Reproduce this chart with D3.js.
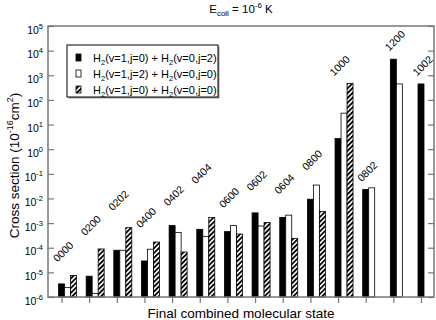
<!DOCTYPE html>
<meta charset="utf-8">
<style>
body { margin: 0; background: #fff; }
text { font-family: "Liberation Sans", Arial, sans-serif; fill: #000; }
.axis path { display: none; }
.axis line { stroke: #777; stroke-width: 1.2px; }
.frame { fill: none; stroke: #777; stroke-width: 1.5px; }
.bar { stroke: #000; stroke-width: 0.8px; }
</style>
<svg width="436" height="320"></svg>
<script src="https://d3js.org/d3.v7.min.js"></script>
<script>

// final combined molecular states, in plotting order
var states = ["0000", "0200", "0202", "0400", "0402", "0404", "0600", "0602",
              "0604", "0800", "1000", "0802", "1200", "1002"];

// cross sections (1e-16 cm^2)
var h2v1j0_v0j2 = [3.4e-6, 7e-6, 7.9e-5, 2.9e-5, 7.9e-4, 5.6e-4, 4.5e-4, 2.6e-3,
                   1.7e-3, 9.3e-3, 2.7, 0.023, 4500, 445];
var h2v1j2_v0j0 = [2.4e-6, 1.4e-6, 7.9e-5, 8.7e-5, 4.2e-4, 2.9e-4, 7.9e-4, 7.6e-4,
                   2.1e-3, 0.035, 29, 0.027, 445, null];
var h2v1j0_v0j0 = [7.4e-6, 8.9e-5, 6.5e-4, 1.7e-4, 6.7e-5, 1.7e-3, 3.6e-4, 1.05e-3,
                   2.4e-4, 3.0e-3, 470, null, null, null];

// heights (data units) where the state labels sit
var labelAt = [2.5e-5, 2.9e-4, 3e-3, 6e-4, 4.7e-3, 0.037, 3.9e-3, 0.019,
               1.4e-2, 0.13, 890, 0.045, 9300, 890];

var yTickExp = [-6, -5, -4, -3, -2, -1, 0, 1, 2, 3, 4, 5];

var series = [
  {key: "a", values: h2v1j0_v0j2, fill: "#000",
   label: [["H", ""], ["2", "sub"], ["(v=1,j=0) + H", ""], ["2", "sub"], ["(v=0,j=2)", ""]]},
  {key: "b", values: h2v1j2_v0j0, fill: "#fff",
   label: [["H", ""], ["2", "sub"], ["(v=1,j=2) + H", ""], ["2", "sub"], ["(v=0,j=0)", ""]]},
  {key: "c", values: h2v1j0_v0j0, fill: "url(#hatch)",
   label: [["H", ""], ["2", "sub"], ["(v=1,j=0) + H", ""], ["2", "sub"], ["(v=0,j=0)", ""]]}
];

var svg = d3.select("svg"),
    margin = {top: 26, right: 2, bottom: 23, left: 48},
    width = +svg.attr("width") - margin.left - margin.right,
    height = +svg.attr("height") - margin.top - margin.bottom;

var defs = svg.append("defs");
var pat = defs.append("pattern")
    .attr("id", "hatch")
    .attr("patternUnits", "userSpaceOnUse")
    .attr("width", 3.4)
    .attr("height", 3.4)
    .attr("patternTransform", "rotate(45)");
pat.append("rect").attr("width", 3.4).attr("height", 3.4).attr("fill", "#fff");
pat.append("line").attr("x1", 0.9).attr("y1", 0).attr("x2", 0.9).attr("y2", 3.4)
    .attr("stroke", "#000").attr("stroke-width", 1.8);

var g = svg.append("g")
    .attr("transform", "translate(" + margin.left + "," + margin.top + ")");

var x = d3.scalePoint().domain(states).range([13.5, 373]);
var sub = d3.scaleBand().domain(series.map(function(s) { return s.key; })).range([-3, 15]);
var y = d3.scaleLog().domain([1e-6, 1e5]).range([height, 0]);

// bars
series.forEach(function(s) {
  var rows = states.map(function(st, i) { return {state: st, v: s.values[i]}; })
                   .filter(function(d) { return d.v != null; });
  g.append("g").selectAll("rect")
    .data(rows)
    .enter().append("rect")
      .attr("class", "bar")
      .attr("x", function(d) { return x(d.state) + sub(s.key); })
      .attr("y", function(d) { return y(d.v); })
      .attr("width", sub.bandwidth())
      .attr("height", function(d) { return height - y(d.v); })
      .attr("fill", s.fill);
});

// state labels
g.append("g").selectAll("text")
  .data(states)
  .enter().append("text")
    .attr("font-size", 10.5)
    .attr("transform", function(d, i) {
      return "translate(" + (x(d) - 4) + "," + y(labelAt[i]) + ") rotate(-45)";
    })
    .text(function(d) { return d; });

// axes
var tickVals = yTickExp.map(function(e) { return Math.pow(10, e); });
g.append("g").attr("class", "axis")
    .call(d3.axisLeft(y).tickValues(tickVals).tickSize(-6).tickFormat(""));
g.append("g").attr("class", "axis")
    .attr("transform", "translate(" + width + ",0)")
    .call(d3.axisRight(y).tickValues(tickVals).tickSize(-6).tickFormat(""));
g.append("g").attr("class", "axis")
    .attr("transform", "translate(0," + height + ")")
    .call(d3.axisBottom(x).tickSize(6).tickFormat(""));

g.append("rect").attr("class", "frame")
    .attr("width", width).attr("height", height);

// y tick labels 10^n
var yl = g.append("g").selectAll("text")
  .data(yTickExp)
  .enter().append("text")
    .attr("x", -5)
    .attr("y", function(e) { return y(Math.pow(10, e)) + 7.5; })
    .attr("text-anchor", "end")
    .attr("font-size", 10.5);
yl.append("tspan").text("10");
yl.append("tspan").attr("font-size", 7.5).attr("dy", -5).text(function(e) { return e; });

// axis titles
var yt = svg.append("text")
    .attr("transform", "translate(19," + (margin.top + height / 2 + 4) + ") rotate(-90)")
    .attr("text-anchor", "middle")
    .attr("font-size", 13.5);
yt.append("tspan").text("Cross section (10");
yt.append("tspan").attr("font-size", 9).attr("dy", -6).text("-16");
yt.append("tspan").attr("dy", 6).text("cm");
yt.append("tspan").attr("font-size", 9).attr("dy", -6).text("2");
yt.append("tspan").attr("dy", 6).text(")");

svg.append("text")
    .attr("x", margin.left + width / 2)
    .attr("y", 318)
    .attr("text-anchor", "middle")
    .attr("font-size", 13.5)
    .text("Final combined molecular state");

var tt = svg.append("text")
    .attr("x", 241)
    .attr("y", 13)
    .attr("text-anchor", "middle")
    .attr("font-size", 11.5);
tt.append("tspan").text("E");
tt.append("tspan").attr("font-size", 8).attr("dy", 3).text("coll");
tt.append("tspan").attr("dy", -3).text(" = 10");
tt.append("tspan").attr("font-size", 8).attr("dy", -5).text("-6");
tt.append("tspan").attr("dy", 5).text(" K");

// legend
var lg = svg.append("g").attr("transform", "translate(67,45)");
lg.append("rect").attr("x", 1.5).attr("y", 1.5).attr("width", 151).attr("height", 52)
    .attr("fill", "#999");
lg.append("rect").attr("width", 151).attr("height", 52)
    .attr("fill", "#fff").attr("stroke", "#000").attr("stroke-width", 1);
var li = lg.selectAll("g.item")
  .data(series)
  .enter().append("g")
    .attr("class", "item")
    .attr("transform", function(d, i) { return "translate(0," + (10 + i * 16) + ")"; });
li.append("rect")
    .attr("x", 9).attr("y", -1).attr("width", 5).attr("height", 7)
    .attr("fill", function(d) { return d.fill; })
    .attr("stroke", "#000").attr("stroke-width", 0.8);
var lt = li.append("text")
    .attr("x", 26).attr("y", 6.5)
    .attr("font-size", 11);
lt.each(function(d) {
  var t = d3.select(this);
  d.label.forEach(function(p) {
    var ts = t.append("tspan").text(p[0]);
    if (p[1] === "sub") ts.attr("font-size", 7.5).attr("dy", 3);
    else if (t.selectAll("tspan").size() > 1) ts.attr("dy", -3);
  });
});

</script>
